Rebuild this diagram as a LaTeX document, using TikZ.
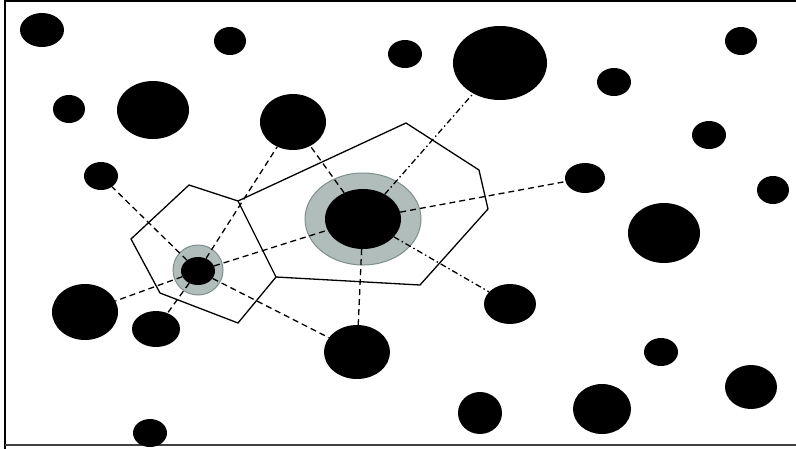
\documentclass[tikz,border=0pt]{standalone}
\usepackage{tikz}
\usetikzlibrary{shapes.geometric}
\definecolor{haloFill}{HTML}{B1BDBB}
\definecolor{haloEdge}{HTML}{7E8E8C}
\begin{document}
\begin{tikzpicture}[x=1pt, y=-1pt]
    \tikzset{
  blob/.style={ellipse, fill=black, inner sep=0pt},
  halo/.style={ellipse, fill=haloFill, draw=haloEdge, line width=1pt, inner sep=0pt},
  link/.style={line width=1.3pt, dash pattern=on 6pt off 4pt},
  dlink/.style={line width=1.3pt, dash pattern=on 6pt off 3pt on 1.5pt off 3pt},
  cell/.style={line width=1.3pt, line join=miter},
}
  \useasboundingbox (0,0) rectangle (796,448);

  % Frame
  \draw[line width=2pt] (5,449) -- (5,1) -- (797,1);
  \draw[line width=1.5pt, black!75] (5,445) -- (797,445);

  % Halos round the two selected particles
  \node[halo, minimum width=116, minimum height=92] (haloB) at (363,219) {};
  \node[halo, minimum width=50, minimum height=50] (haloA) at (198,270) {};

  % Particles
  \node[blob, minimum width=44, minimum height=34] (p1) at (42,30) {};
  \node[blob, minimum width=32, minimum height=28] (p2) at (230,41) {};
  \node[blob, minimum width=34, minimum height=28] (p3) at (405,54) {};
  \node[blob, minimum width=94, minimum height=74] (p4) at (500,63) {};
  \node[blob, minimum width=34, minimum height=28] (p5) at (614,82) {};
  \node[blob, minimum width=32, minimum height=28] (p6) at (741,41) {};
  \node[blob, minimum width=32, minimum height=28] (p7) at (69,109) {};
  \node[blob, minimum width=72, minimum height=58] (p8) at (153,110) {};
  \node[blob, minimum width=66, minimum height=56] (p9) at (293,122) {};
  \node[blob, minimum width=34, minimum height=28] (p10) at (709,135) {};
  \node[blob, minimum width=34, minimum height=28] (p11) at (101,176) {};
  \node[blob, minimum width=40, minimum height=30] (p12) at (585,178) {};
  \node[blob, minimum width=32, minimum height=28] (p13) at (773,190) {};
  \node[blob, minimum width=72, minimum height=60] (p14) at (664,233) {};
  \node[blob, minimum width=76, minimum height=60] (pB) at (363,219) {};
  \node[blob, minimum width=34, minimum height=28] (pA) at (198,271) {};
  \node[blob, minimum width=66, minimum height=56] (p17) at (85,312) {};
  \node[blob, minimum width=48, minimum height=36] (p18) at (156,329) {};
  \node[blob, minimum width=66, minimum height=54] (p19) at (357,352) {};
  \node[blob, minimum width=52, minimum height=40] (p20) at (510,304) {};
  \node[blob, minimum width=34, minimum height=28] (p21) at (661,352) {};
  \node[blob, minimum width=52, minimum height=44] (p22) at (751,387) {};
  \node[blob, minimum width=44, minimum height=42] (p23) at (480,413) {};
  \node[blob, minimum width=58, minimum height=50] (p24) at (602,409) {};
  \node[blob, minimum width=34, minimum height=28] (p25) at (150,433) {};

  % Voronoi cells of the two selected particles
  \draw[cell] (189,185) -- (238,201) -- (276,277) -- (238,323) -- (160,293) -- (131,239) -- cycle;
  \draw[cell] (238,201) -- (406,123) -- (479,170) -- (488,209) -- (420,285) -- (276,277);

  % Neighbours of the small particle
  \draw[link] (pA) -- (p11);
  \draw[link] (pA) -- (p9);
  \draw[link] (pA) -- (pB);
  \draw[link] (pA) -- (p17);
  \draw[link] (pA) -- (p18);
  \draw[link] (pA) -- (p19);

  % Neighbours of the large particle
  \draw[link] (pB) -- (p9);
  \draw[link] (pB) -- (p12);
  \draw[link] (pB) -- (p19);
  \draw[dlink] (pB) -- (p4);
  \draw[dlink] (pB) -- (p20);

  \end{tikzpicture}
\end{document}
